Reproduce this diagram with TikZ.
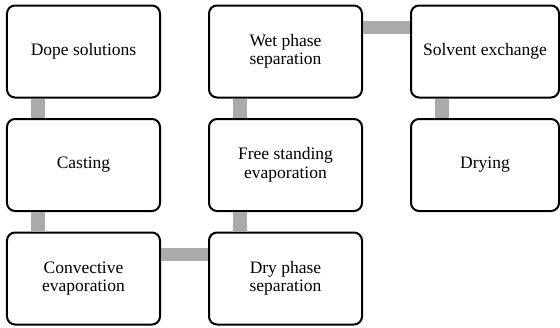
\documentclass[tikz,border=0pt]{standalone}
\usepackage{fontspec}
\setmainfont{Liberation Serif}
\usetikzlibrary{positioning}

\definecolor{bargray}{RGB}{170,170,170}

\tikzset{
  stage/.style={draw, line width=2pt, rounded corners=8pt, fill=white,
    minimum width=153pt, minimum height=92pt, align=center,
    font=\fontsize{17.5}{18.5}\selectfont},
  narrow/.style={minimum width=148pt},
  bar/.style={draw=bargray, line width=13.5pt}
}

\begin{document}
\begin{tikzpicture}

% Fix the size of the page
\useasboundingbox (-83.5pt,-275.5pt) rectangle (476.5pt,51.5pt);

% Boxes of the first column, going down
\node [stage] (dope) at (0,0) {Dope solutions};
\node [stage, below=19.5pt of dope] (casting) {Casting};
\node [stage, below=19.5pt of casting] (convective) {Convective\\evaporation};

% Boxes of the second column, going up
\node [stage, right=47pt of convective] (dry) {Dry phase\\separation};
\node [stage, above=19.5pt of dry] (free) {Free standing\\evaporation};
\node [stage, above=19.5pt of free] (wet) {Wet phase\\separation};

% Boxes of the third column
\node [stage, narrow, right=47pt of wet] (solvent) {Solvent exchange};
\node [stage, narrow, below=19.5pt of solvent] (drying) {Drying};

% Gray bars between boxes of one column
\foreach \a/\b in {dope/casting,casting/convective,wet/free,free/dry,solvent/drying}
	\draw [bar] ([xshift=32pt]\a.south west)--([xshift=32pt]\b.north west);

% Gray bars between the columns
\draw [bar] ([yshift=-23pt]convective.north east)--([yshift=-23pt]dry.north west);
\draw [bar] ([yshift=-23pt]wet.north east)--([yshift=-23pt]solvent.north west);

\end{tikzpicture}
\end{document}
